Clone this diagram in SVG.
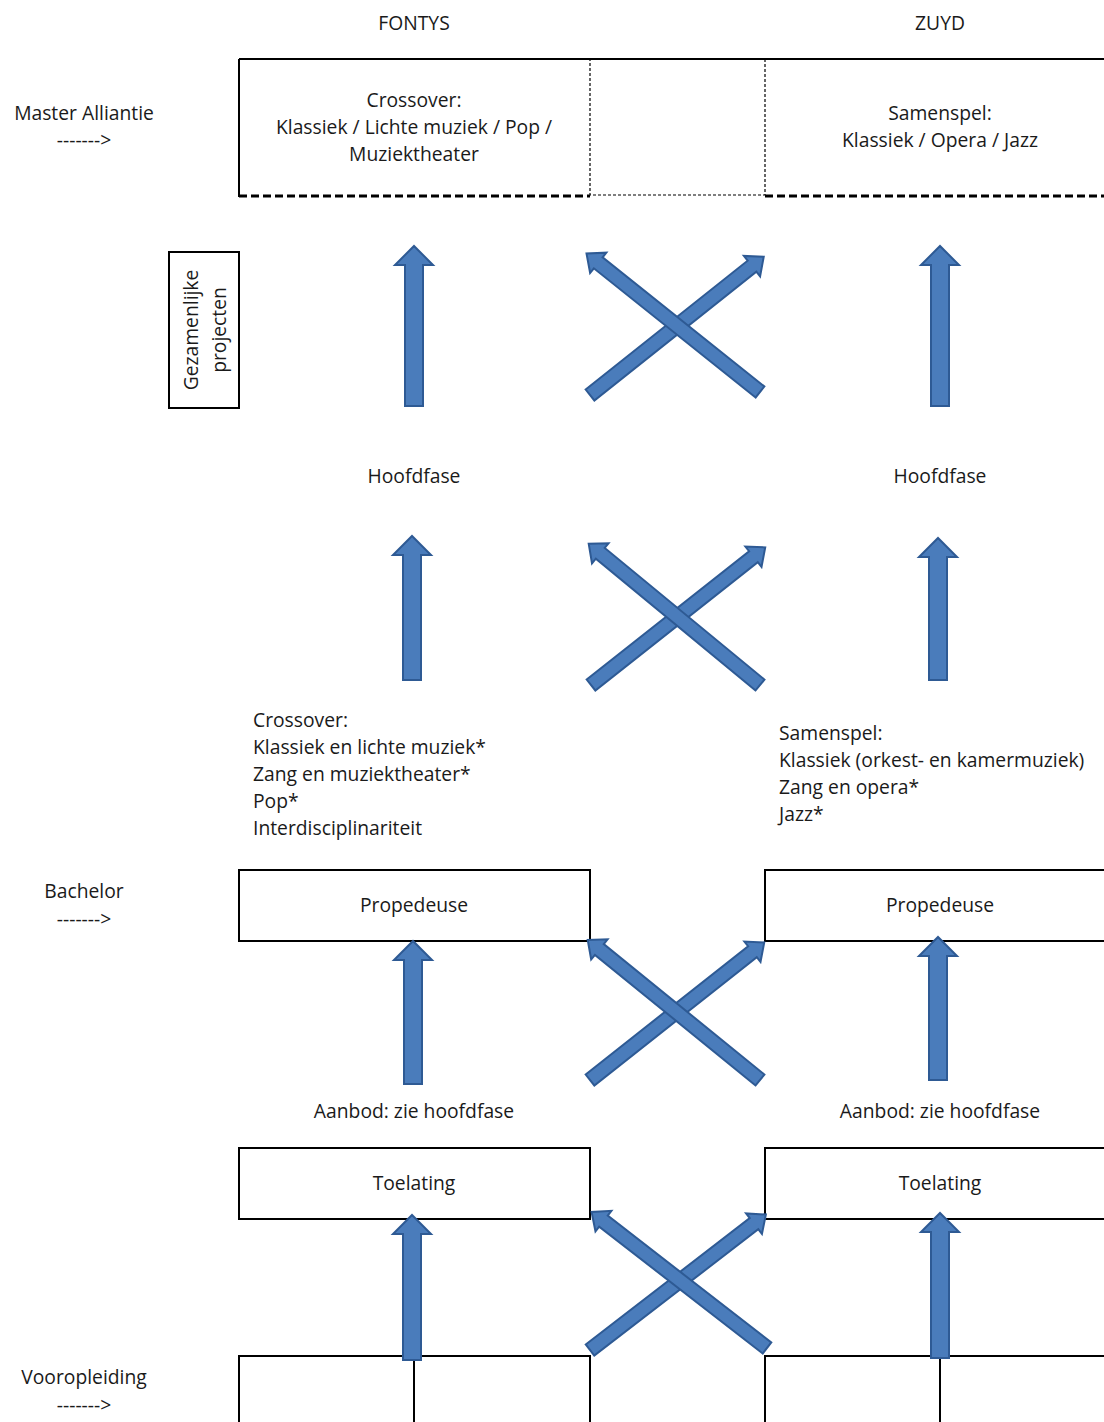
<svg xmlns="http://www.w3.org/2000/svg" width="1104" height="1422" viewBox="0 0 1104 1422">
<defs>
<style>
text{font-family:"Open Sans","Liberation Sans",sans-serif;font-size:19.3px;fill:#1a1a1a}
.c{text-anchor:middle}
.box{fill:none;stroke:#000;stroke-width:2}
.arr{fill:#4a7cbb;stroke:#2e5a94;stroke-width:2;stroke-linejoin:miter}
</style>
<path id="diag" d="M-7,0 L-7,-207 L-13,-207 L0,-222 L13,-207 L7,-207 L7,0 Z"/>
</defs>
<rect width="1104" height="1422" fill="#fff"/>

<g id="headers">
<text class="c" x="414" y="30">FONTYS</text>
<text class="c" x="940" y="30">ZUYD</text>
</g>

<g id="master-label">
<text class="c" x="84" y="120">Master Alliantie</text>
<text class="c" x="84" y="147">-------&gt;</text>
</g>

<g id="master-boxes">
<line x1="239" y1="59" x2="1104" y2="59" stroke="#000" stroke-width="2"/>
<line x1="239" y1="59" x2="239" y2="197" stroke="#000" stroke-width="2"/>
<line x1="239" y1="196" x2="590" y2="196" stroke="#000" stroke-width="3" stroke-dasharray="8,4"/>
<line x1="765" y1="196" x2="1104" y2="196" stroke="#000" stroke-width="3" stroke-dasharray="8,4"/>
<rect x="590" y="59" width="175" height="136" fill="none" stroke="#000" stroke-width="1.2" stroke-dasharray="3,2"/>
<text class="c" x="414" y="107">Crossover:</text>
<text class="c" x="414" y="134">Klassiek / Lichte muziek / Pop /</text>
<text class="c" x="414" y="161">Muziektheater</text>
<text class="c" x="940" y="120">Samenspel:</text>
<text class="c" x="940" y="147">Klassiek / Opera / Jazz</text>
</g>

<g id="gezamenlijke-projecten">
<rect class="box" x="169" y="252" width="70" height="156"/>
<text class="c" transform="translate(198,330) rotate(-90)">Gezamenlijke</text>
<text class="c" transform="translate(226,330) rotate(-90)">projecten</text>
</g>

<g id="hoofdfase">
<text class="c" x="414" y="483">Hoofdfase</text>
<text class="c" x="940" y="483">Hoofdfase</text>
</g>

<g id="fontys-offer">
<text x="253" y="727">Crossover:</text>
<text x="253" y="754">Klassiek en lichte muziek*</text>
<text x="253" y="781">Zang en muziektheater*</text>
<text x="253" y="808">Pop*</text>
<text x="253" y="835">Interdisciplinariteit</text>
</g>

<g id="zuyd-offer">
<text x="779" y="740">Samenspel:</text>
<text x="779" y="767">Klassiek (orkest- en kamermuziek)</text>
<text x="779" y="794">Zang en opera*</text>
<text x="779" y="821">Jazz*</text>
</g>

<g id="bachelor-label">
<text class="c" x="84" y="898">Bachelor</text>
<text class="c" x="84" y="926">-------&gt;</text>
</g>

<g id="propedeuse-fontys">
<rect class="box" x="239" y="870" width="351" height="71"/>
<text class="c" x="414" y="912">Propedeuse</text>
</g>
<g id="propedeuse-zuyd">
<rect class="box" x="765" y="870" width="345" height="71"/>
<text class="c" x="940" y="912">Propedeuse</text>
</g>

<g id="aanbod">
<text class="c" x="414" y="1118">Aanbod: zie hoofdfase</text>
<text class="c" x="940" y="1118">Aanbod: zie hoofdfase</text>
</g>

<g id="toelating-fontys">
<rect class="box" x="239" y="1148" width="351" height="71"/>
<text class="c" x="414" y="1190">Toelating</text>
</g>
<g id="toelating-zuyd">
<rect class="box" x="765" y="1148" width="345" height="71"/>
<text class="c" x="940" y="1190">Toelating</text>
</g>

<g id="vooropleiding-label">
<text class="c" x="84" y="1384">Vooropleiding</text>
<text class="c" x="84" y="1412">-------&gt;</text>
</g>

<g id="vooropleiding-fontys">
<rect class="box" x="239" y="1356" width="351" height="80"/>
<line x1="414" y1="1356" x2="414" y2="1422" stroke="#000" stroke-width="2"/>
</g>
<g id="vooropleiding-zuyd">
<rect class="box" x="765" y="1356" width="345" height="80"/>
<line x1="940" y1="1356" x2="940" y2="1422" stroke="#000" stroke-width="2"/>
</g>

<g id="connectors">
<path class="arr" d="M405,406 L405,265 L395,265 L414,246 L433,265 L423,265 L423,406 Z"/>
<path class="arr" d="M931,406 L931,265 L921,265 L940,246 L959,265 L949,265 L949,406 Z"/>
<use href="#diag" class="arr" transform="translate(590,395) rotate(51.5)"/>
<use href="#diag" class="arr" transform="translate(760,392) rotate(-51.4)"/>
<path class="arr" d="M403,680 L403,555 L393,555 L412,536 L431,555 L421,555 L421,680 Z"/>
<path class="arr" d="M929,680 L929,557 L919,557 L938,538 L957,557 L947,557 L947,680 Z"/>
<use href="#diag" class="arr" transform="translate(591,685) rotate(51.7)"/>
<use href="#diag" class="arr" transform="translate(760,685) rotate(-50.5)"/>
<path class="arr" d="M404,1084 L404,960 L394,960 L413,941 L432,960 L422,960 L422,1084 Z"/>
<path class="arr" d="M929,1080 L929,956 L919,956 L938,937 L957,956 L947,956 L947,1080 Z"/>
<use href="#diag" class="arr" transform="translate(590,1080) rotate(51.7)"/>
<use href="#diag" class="arr" transform="translate(760,1080) rotate(-50.9)"/>
<path class="arr" d="M403,1360 L403,1234 L393,1234 L412,1215 L431,1234 L421,1234 L421,1360 Z"/>
<path class="arr" d="M931,1358 L931,1232 L921,1232 L940,1213 L959,1232 L949,1232 L949,1358 Z"/>
<use href="#diag" class="arr" transform="translate(590,1350) rotate(52.4)"/>
<use href="#diag" class="arr" transform="translate(767,1348) rotate(-52.2)"/>
</g>
</svg>
